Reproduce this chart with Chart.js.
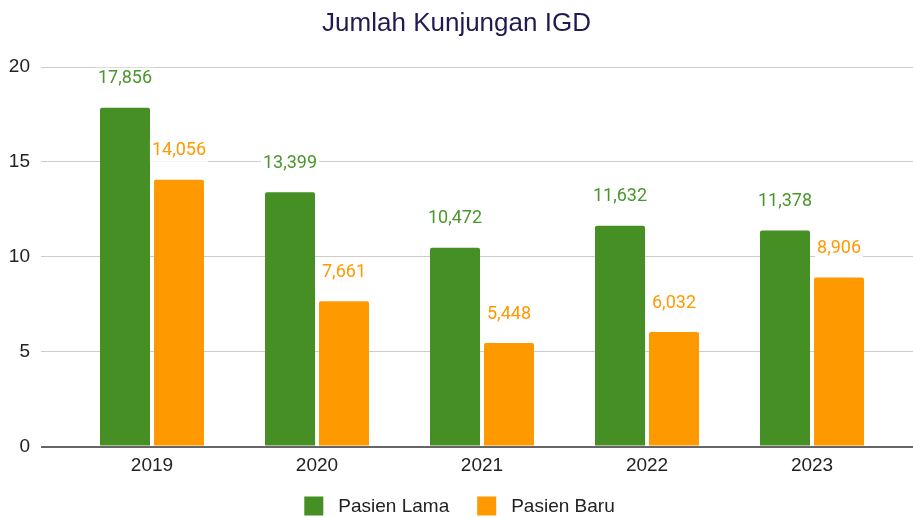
<!DOCTYPE html>
<html><head><meta charset="utf-8">
<script src="https://cdn.jsdelivr.net/npm/chart.js@4"></script>
<style>html,body{margin:0;padding:0;background:#fff}</style>
</head><body>
<canvas id="c" width="913" height="518" style="width:913px;height:518px;display:block"></canvas>
<script>
const categories = ['2019', '2020', '2021', '2022', '2023'];
const pasienLama = [17.856, 13.399, 10.472, 11.632, 11.378];
const pasienBaru = [14.056, 7.661, 5.448, 6.032, 8.906];
const yTickValues = [0, 5, 10, 15, 20];
const seriesNames = ['Pasien Lama', 'Pasien Baru'];
const seriesColors = ['#458f24', '#ff9900'];
const titleText = 'Jumlah Kunjungan IGD';

const fmt = v => v.toFixed(3).replace('.', ',');

const labelPlugin = {
  id: 'barLabels',
  afterDatasetsDraw(chart) {
    const ctx = chart.ctx;
    ctx.save();
    ctx.font = '18px Roboto';
    ctx.textAlign = 'center';
    ctx.textBaseline = 'middle';
    chart.data.datasets.forEach((ds, di) => {
      const meta = chart.getDatasetMeta(di);
      meta.data.forEach((el, i) => {
        const txt = fmt(ds.data[i].y);
        const y = el.y - 29;
        const w = ctx.measureText(txt).width;
        ctx.fillStyle = '#ffffff';
        ctx.fillRect(el.x - w / 2 - 2, y - 11, w + 4, 22);
        ctx.fillStyle = ds.labelColor;
        ctx.fillText(txt, el.x, y);
      });
    });
    ctx.restore();
  }
};

// Legend drawn below the axis, from the datasets' labels and colours
const legendPlugin = {
  id: 'bottomLegend',
  afterDraw(chart) {
    const ctx = chart.ctx;
    const box = 19, gapText = 15, gapItem = 28, cy = 506;
    ctx.save();
    ctx.font = '19px "Liberation Sans"';
    ctx.textBaseline = 'middle';
    ctx.textAlign = 'left';
    const items = chart.data.datasets.map(ds => ({
      text: ds.label, color: ds.backgroundColor, w: ctx.measureText(ds.label).width
    }));
    const total = items.reduce((s, it) => s + box + gapText + it.w, 0) + gapItem * (items.length - 1);
    let x = chart.width / 2 + 3 - total / 2;
    items.forEach(it => {
      ctx.fillStyle = it.color;
      ctx.fillRect(x, cy - box / 2, box, box);
      ctx.fillStyle = '#222222';
      ctx.fillText(it.text, x + box + gapText, cy + 1);
      x += box + gapText + it.w + gapItem;
    });
    ctx.restore();
  }
};

new Chart(document.getElementById('c'), {
  type: 'bar',
  data: {
    datasets: [
      { label: seriesNames[0], data: pasienLama.map((v, i) => ({ x: i, y: v })),
        backgroundColor: seriesColors[0], labelColor: '#4a962b', borderRadius: 2, borderSkipped: 'bottom' },
      { label: seriesNames[1], data: pasienBaru.map((v, i) => ({ x: i, y: v })),
        backgroundColor: seriesColors[1], labelColor: '#ff9900', borderRadius: 2, borderSkipped: 'bottom' }
    ]
  },
  options: {
    responsive: false,
    animation: false,
    devicePixelRatio: 1,
    categoryPercentage: 0.6545,
    barPercentage: 0.926,
    layout: { padding: { left: 0, right: 0, top: 0, bottom: 40.5 } },
    plugins: {
      title: {
        display: true, text: titleText, color: '#211a52',
        font: { family: 'Liberation Sans', size: 26, weight: 'normal' },
        padding: { top: 8.4, bottom: 27.4 }
      },
      legend: { display: false },
      tooltip: { enabled: false }
    },
    scales: {
      x: {
        type: 'linear',
        offset: false,
        min: -0.6727, max: 4.612,
        grid: { display: false, drawTicks: false },
        border: { display: false },
        afterBuildTicks: s => { s.ticks = categories.map((c, i) => ({ value: i })); },
        afterFit: s => { s.height = 31; },
        ticks: {
          padding: 8, color: '#222222',
          font: { family: 'Liberation Sans', size: 19 },
          callback: v => categories[v] ?? ''
        }
      },
      y: {
        min: 0, max: 20,
        afterBuildTicks: s => { s.ticks = yTickValues.map(v => ({ value: v })); },
        afterFit: s => { s.width = 41; },
        grid: {
          drawTicks: false,
          color: c => (c.tick && c.tick.value === 0) ? '#666666' : '#cccccc',
          lineWidth: c => (c.tick && c.tick.value === 0) ? 2 : 1
        },
        border: { display: false },
        ticks: {
          padding: 11, color: '#222222',
          font: { family: 'Liberation Sans', size: 19 }
        }
      }
    }
  },
  plugins: [labelPlugin, legendPlugin]
});
</script>
</body></html>
